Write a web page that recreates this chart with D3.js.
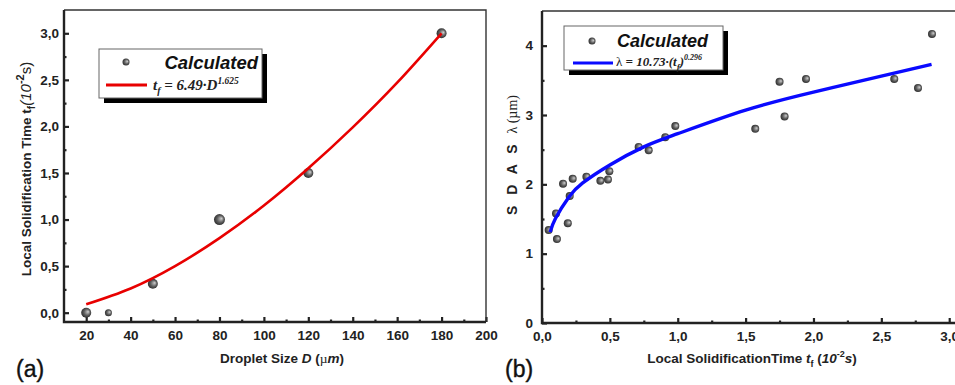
<!DOCTYPE html>
<html>
<head>
<meta charset="utf-8">
<script src="https://cdn.jsdelivr.net/npm/d3@7"></script>
<style>
  body { margin: 0; background: #fff; }
  svg { display: block; }
</style>
</head>
<body>
<script>
// Panel (a): droplet size vs local solidification time
const dropletSize = [20, 30, 50, 80, 120, 180];
const solidTime = [0, 0, 0.31, 1.0, 1.5, 3.0];
const dotSizeA = [5, 3.5, 5, 5.5, 5, 5];
// fitted curve
const fitSizeA = [20, 40, 60, 80, 100, 120, 140, 160, 180];
const fitTimeA = [0.09, 0.26, 0.50, 0.80, 1.15, 1.55, 1.99, 2.47, 3.00];

// Panel (b): local solidification time vs SDAS
const timeB = [0.049, 0.103, 0.11, 0.155, 0.19, 0.204, 0.226, 0.327, 0.43, 0.486, 0.496,
  0.712, 0.786, 0.908, 0.982, 1.571, 1.75, 1.787, 1.945, 2.595, 2.77, 2.873];
const sdasB = [1.34, 1.58, 1.21, 2.01, 1.44, 1.83, 2.08, 2.11, 2.05, 2.07, 2.19,
  2.54, 2.49, 2.68, 2.84, 2.80, 3.48, 2.98, 3.52, 3.52, 3.39, 4.17];
const fitTimeB = [0.06, 0.1, 0.2, 0.3, 0.5, 0.75, 1.0, 1.5, 2.0, 2.5, 2.87];
const fitSdasB = [1.31, 1.51, 1.82, 2.02, 2.28, 2.54, 2.73, 3.07, 3.33, 3.56, 3.73];

const xTicksA = [20, 40, 60, 80, 100, 120, 140, 160, 180, 200];
const yTicksA = [0, 0.5, 1, 1.5, 2, 2.5, 3];
const xTicksB = [0, 0.5, 1, 1.5, 2, 2.5, 3];
const yTicksB = [0, 1, 2, 3, 4];

const W = 955, H = 385;
const sans = '"Liberation Sans", Arial, sans-serif';
const serif = '"Liberation Serif", "Times New Roman", serif';

const svg = d3.select('body').append('svg')
  .attr('width', W)
  .attr('height', H);

const defs = svg.append('defs');
const grad = defs.append('radialGradient')
  .attr('id', 'ball')
  .attr('cx', '50%').attr('cy', '50%').attr('r', '55%')
  .attr('fx', '70%').attr('fy', '40%');
grad.append('stop').attr('offset', '0%').attr('stop-color', '#d0d0d0');
grad.append('stop').attr('offset', '55%').attr('stop-color', '#606060');
grad.append('stop').attr('offset', '100%').attr('stop-color', '#262626');

const comma = f => v => d3.format(f)(v).replace('.', ',');

function drawFrame(x, y, opts) {
  const g = svg.append('g');
  const [x0, x1] = x.range();
  const [y0, y1] = y.range();

  // major and minor ticks, pointing inward
  g.append('g')
    .attr('transform', `translate(0,${y0})`)
    .call(d3.axisBottom(x).tickValues(opts.xMinor).tickSize(-2.5).tickFormat(''))
    .call(a => a.select('.domain').remove());
  g.append('g')
    .attr('transform', `translate(${x0},0)`)
    .call(d3.axisLeft(y).tickValues(opts.yMinor).tickSize(-2.5).tickFormat(''))
    .call(a => a.select('.domain').remove());

  const xa = g.append('g')
    .attr('transform', `translate(0,${y0})`)
    .call(d3.axisBottom(x).tickValues(opts.xTicks).tickSize(-5).tickPadding(8).tickFormat(opts.xFmat));
  xa.select('.domain').remove();
  const ya = g.append('g')
    .attr('transform', `translate(${x0},0)`)
    .call(d3.axisLeft(y).tickValues(opts.yTicks).tickSize(-5).tickPadding(opts.yPad).tickFormat(opts.yFmat));
  ya.select('.domain').remove();

  g.selectAll('.tick line').attr('stroke', '#222').attr('stroke-width', 2.2);
  g.selectAll('.tick text')
    .attr('font-family', sans)
    .attr('font-size', '13.5px')
    .attr('font-weight', 700)
    .attr('fill', '#222');

  // frame: thin top/right, heavier axes
  g.append('path')
    .attr('d', `M${x0},${y1}H${x1}V${y0}`)
    .attr('fill', 'none')
    .attr('stroke', '#333')
    .attr('stroke-width', 1.4);
  g.append('path')
    .attr('d', `M${x0},${y1}V${y0}H${x1}`)
    .attr('fill', 'none')
    .attr('stroke', '#222')
    .attr('stroke-width', 2.4);
}

function legendBox(bx, by, bw, bh) {
  svg.append('rect')
    .attr('x', bx + 5).attr('y', by + 5)
    .attr('width', bw).attr('height', bh)
    .attr('fill', '#000');
  svg.append('rect')
    .attr('x', bx).attr('y', by)
    .attr('width', bw).attr('height', bh)
    .attr('fill', '#fff')
    .attr('stroke', '#666')
    .attr('stroke-width', 1);
}

// ---------- panel (a) ----------
const xA = d3.scaleLinear().domain([10, 200]).range([64, 486]);
const yA = d3.scaleLinear().domain([-0.1, 3.25]).range([322, 10]);

drawFrame(xA, yA, {
  xTicks: xTicksA,
  xMinor: d3.range(30, 200, 20),
  yTicks: yTicksA,
  yMinor: d3.range(0.25, 3.25, 0.5),
  xFmat: d3.format('d'),
  yFmat: comma('.1f'),
  yPad: 5
});

const lineA = d3.line()
  .x(d => xA(d[0]))
  .y(d => yA(d[1]))
  .curve(d3.curveNatural);

svg.append('g').selectAll('circle')
  .data(dropletSize.map((d, i) => [d, solidTime[i], dotSizeA[i]]))
  .join('circle')
  .attr('cx', d => xA(d[0]))
  .attr('cy', d => yA(d[1]))
  .attr('r', d => d[2])
  .attr('fill', 'url(#ball)');

svg.append('path')
  .datum(fitSizeA.map((d, i) => [d, fitTimeA[i]]))
  .attr('d', lineA)
  .attr('fill', 'none')
  .attr('stroke', '#e80000')
  .attr('stroke-width', 2.6);

legendBox(99, 49, 163, 49);
svg.append('circle').attr('cx', 126).attr('cy', 62).attr('r', 3.5).attr('fill', 'url(#ball)');
svg.append('text')
  .attr('x', 258).attr('y', 69)
  .attr('text-anchor', 'end')
  .attr('font-family', sans)
  .attr('font-size', '18.5px')
  .attr('font-weight', 700)
  .attr('font-style', 'italic')
  .attr('fill', '#111')
  .text('Calculated');
svg.append('line')
  .attr('x1', 106).attr('x2', 147).attr('y1', 85).attr('y2', 85)
  .attr('stroke', '#e80000').attr('stroke-width', 3);
const fa = svg.append('text')
  .attr('x', 153).attr('y', 90)
  .attr('font-family', serif)
  .attr('font-size', '15px')
  .attr('font-weight', 700)
  .attr('font-style', 'italic')
  .attr('fill', '#222');
fa.append('tspan').text('t');
fa.append('tspan').attr('dy', 4).attr('font-size', '10px').text('f');
fa.append('tspan').attr('dy', -4).text(' = 6.49·D');
fa.append('tspan').attr('dy', -6).attr('font-size', '9.5px').text('1.625');

// axis labels (a)
svg.append('text')
  .attr('transform', 'translate(31,169) rotate(-90)')
  .attr('text-anchor', 'middle')
  .attr('font-family', sans)
  .attr('font-size', '13.5px')
  .attr('font-weight', 700)
  .attr('fill', '#222')
  .call(t => {
    t.append('tspan').text('Local Solidification Time t');
    t.append('tspan').attr('dy', 4).attr('font-size', '10px').text('f');
    t.append('tspan').attr('dy', -4).attr('font-size', '15px').attr('font-style', 'italic').attr('font-weight', 400).text('(10');
    t.append('tspan').attr('dy', -7).attr('font-size', '11px').text('-2');
    t.append('tspan').attr('dy', 7).attr('font-size', '15px').attr('font-weight', 400).text('s)');
  });

svg.append('text')
  .attr('x', 282).attr('y', 363)
  .attr('text-anchor', 'middle')
  .attr('font-family', sans)
  .attr('font-size', '13.5px')
  .attr('font-weight', 700)
  .attr('fill', '#222')
  .call(t => {
    t.append('tspan').text('Droplet Size ');
    t.append('tspan').attr('font-style', 'italic').text('D');
    t.append('tspan').text(' (');
    t.append('tspan').attr('font-family', serif).attr('font-weight', 400).text('µ');
    t.append('tspan').attr('font-style', 'italic').text('m');
    t.append('tspan').text(')');
  });

svg.append('text')
  .attr('x', 16).attr('y', 377)
  .attr('font-family', sans)
  .attr('font-size', '23px')
  .attr('fill', '#111')
  .attr('stroke', '#111')
  .attr('stroke-width', 0.4)
  .text('(a)');

// ---------- panel (b) ----------
const xB = d3.scaleLinear().domain([0, 3.05]).range([542, 956]);
const yB = d3.scaleLinear().domain([0, 4.5]).range([323, 11]);

drawFrame(xB, yB, {
  xTicks: xTicksB,
  xMinor: d3.range(0.25, 3, 0.5),
  yTicks: yTicksB,
  yMinor: d3.range(0.5, 4.5, 1),
  xFmat: comma('.1f'),
  yFmat: d3.format('d'),
  yPad: 9
});

const lineB = d3.line()
  .x(d => xB(d[0]))
  .y(d => yB(d[1]))
  .curve(d3.curveNatural);

svg.append('g').selectAll('circle')
  .data(timeB.map((d, i) => [d, sdasB[i]]))
  .join('circle')
  .attr('cx', d => xB(d[0]))
  .attr('cy', d => yB(d[1]))
  .attr('r', 4)
  .attr('fill', 'url(#ball)');

svg.append('path')
  .datum(fitTimeB.map((d, i) => [d, fitSdasB[i]]))
  .attr('d', lineB)
  .attr('fill', 'none')
  .attr('stroke', '#0a0aff')
  .attr('stroke-width', 3.4);

legendBox(564, 26, 159, 44);
svg.append('circle').attr('cx', 592).attr('cy', 41).attr('r', 3.5).attr('fill', 'url(#ball)');
svg.append('text')
  .attr('x', 708).attr('y', 47)
  .attr('text-anchor', 'end')
  .attr('font-family', sans)
  .attr('font-size', '18px')
  .attr('font-weight', 700)
  .attr('font-style', 'italic')
  .attr('fill', '#111')
  .text('Calculated');
svg.append('line')
  .attr('x1', 573).attr('x2', 613).attr('y1', 63).attr('y2', 63)
  .attr('stroke', '#0a0aff').attr('stroke-width', 3);
const fb = svg.append('text')
  .attr('x', 616).attr('y', 66)
  .attr('font-family', serif)
  .attr('font-size', '13px')
  .attr('font-weight', 700)
  .attr('font-style', 'italic')
  .attr('fill', '#222');
fb.append('tspan').attr('font-weight', 400).attr('font-style', 'normal').text('λ');
fb.append('tspan').text(' = 10.73·(t');
fb.append('tspan').attr('dy', 4).attr('font-size', '9px').text('f');
fb.append('tspan').attr('dy', -4).text(')');
fb.append('tspan').attr('dy', -6).attr('font-size', '8px').text('0.296');

// axis labels (b)
svg.append('text')
  .attr('transform', 'translate(517,155) rotate(-90)')
  .attr('text-anchor', 'middle')
  .attr('font-family', sans)
  .attr('font-size', '14px')
  .attr('font-weight', 700)
  .attr('fill', '#222')
  .call(t => {
    t.append('tspan').attr('letter-spacing', '3.5px').text('S D A S ');
    t.append('tspan').attr('font-family', serif).attr('font-weight', 400).attr('font-size', '14px').text('λ (µm)');
  });

svg.append('text')
  .attr('x', 752).attr('y', 363)
  .attr('text-anchor', 'middle')
  .attr('font-family', sans)
  .attr('font-size', '13.5px')
  .attr('font-weight', 700)
  .attr('fill', '#222')
  .call(t => {
    t.append('tspan').text('Local SolidificationTime ');
    t.append('tspan').attr('font-style', 'italic').text('t');
    t.append('tspan').attr('dy', 4).attr('font-size', '9px').text('f');
    t.append('tspan').attr('dy', -4).text(' (');
    t.append('tspan').attr('font-style', 'italic').text('10');
    t.append('tspan').attr('dy', -6).attr('font-size', '9px').text('-2');
    t.append('tspan').attr('dy', 6).attr('font-style', 'italic').text('s');
    t.append('tspan').text(')');
  });

svg.append('text')
  .attr('x', 505).attr('y', 377)
  .attr('font-family', sans)
  .attr('font-size', '23px')
  .attr('fill', '#111')
  .attr('stroke', '#111')
  .attr('stroke-width', 0.4)
  .text('(b)');
</script>
</body>
</html>
